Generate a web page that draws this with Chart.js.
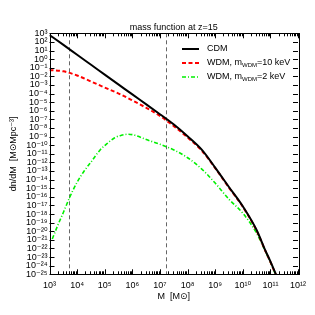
<!DOCTYPE html>
<html>
<head>
<meta charset="utf-8">
<script src="https://cdn.jsdelivr.net/npm/chart.js@4/dist/chart.umd.min.js"></script>
<style>
  html, body { margin: 0; padding: 0; background: #fff; }
  #wrap { width: 315px; height: 315px; }
</style>
</head>
<body>
<div id="wrap"><canvas id="chart" width="315" height="315"></canvas></div>
<script>
// halo mass (M_sun) and dn/dM
const masses = [1e3, 3.2e3, 1e4, 3.2e4, 1e5, 3.2e5, 1e6, 3.2e6, 1e7, 3.2e7, 1e8, 3.2e8, 1e9, 3.2e9, 1e10, 3.2e10, 6.3e10, 1e11, 1.6e11, 2e11];
const cdm = [6.3e2, 4.5e1, 3.2, 2.2e-1, 1.6e-2, 1.1e-3, 7.9e-5, 5.6e-6, 4.0e-7, 2.5e-8, 1.1e-9, 3.2e-11, 2.5e-13, 1.3e-15, 7.9e-18, 1.3e-20, 7.9e-23, 3.2e-24, 8.9e-26, 1.6e-26];
const wdm10 = [5.6e-2, 3.8e-2, 1.26e-2, 2.5e-3, 5.0e-4, 1.0e-4, 1.6e-5, 2.2e-6, 2.5e-7, 1.6e-8, 7.9e-10, 2.5e-11, 2.2e-13, 1.1e-15, 7.1e-18, 1.1e-20, 7.1e-23, 2.8e-24, 7.9e-26, 1.4e-26];
const wdm2Masses = [1.26e3, 2.0e3, 3.2e3, 5.2e3, 1e4, 1.8e4, 3.2e4, 6.8e4, 1e5, 2.3e5, 4.0e5, 7.2e5, 1.26e6, 3.2e6, 1e7, 3.2e7, 1e8, 3.2e8, 1e9, 3.2e9, 1e10, 3.2e10, 6.3e10, 1e11, 1.6e11, 2e11];
const wdm2 = [1.26e-21, 5.0e-20, 1.6e-18, 6.9e-17, 5.0e-15, 1.0e-13, 1.1e-12, 2.8e-11, 8.9e-11, 7.4e-10, 1.4e-9, 1.9e-9, 1.4e-9, 4.5e-10, 1.26e-10, 2.8e-11, 3.5e-12, 1.8e-13, 4.0e-15, 5.0e-17, 1.26e-18, 5.6e-21, 6.3e-23, 2.5e-24, 7.1e-26, 1.3e-26];
const markerMasses = [5.2e3, 1.65e7];

const xTicks = [1e3, 1e4, 1e5, 1e6, 1e7, 1e8, 1e9, 1e10, 1e11, 1e12];
const yTicks = [1e3, 1e2, 1e1, 1e0, 1e-1, 1e-2, 1e-3, 1e-4, 1e-5, 1e-6, 1e-7, 1e-8, 1e-9, 1e-10, 1e-11, 1e-12,
  1e-13, 1e-14, 1e-15, 1e-16, 1e-17, 1e-18, 1e-19, 1e-20, 1e-21, 1e-22, 1e-23, 1e-24, 1e-25];
const legendRows = [['CDM'], ['WDM, m', 'WDM', '=10 keV'], ['WDM, m', 'WDM', '=2 keV']];

const FONT = '"Liberation Sans", "DejaVu Sans", sans-serif';
const SUP = { '0': '⁰', '1': '¹', '2': '²', '3': '³', '4': '⁴', '5': '⁵', '6': '⁶', '7': '⁷', '8': '⁸', '9': '⁹', '-': '⁻' };
const pow10 = (v) => '10' + String(Math.round(Math.log10(v))).split('').map(c => SUP[c]).join('');

const minorX = [];
xTicks.slice(0, -1).forEach(d => [2, 3, 4, 5, 6, 7, 8, 9].forEach(k => minorX.push(d * k)));

const toPoints = (xs, ys) => xs.map((m, i) => ({ x: m, y: ys[i] }));

// frame, inward ticks and the two dashed mass markers
const framePlugin = {
  id: 'frame',
  beforeDatasetsDraw(chart) {
    const { ctx, chartArea: a, scales: { x } } = chart;
    ctx.save();
    ctx.strokeStyle = '#666';
    ctx.lineWidth = 1;
    ctx.setLineDash([4, 3]);
    markerMasses.forEach(m => {
      const px = Math.round(x.getPixelForValue(m)) + 0.5;
      ctx.beginPath();
      ctx.moveTo(px, a.top);
      ctx.lineTo(px, a.bottom);
      ctx.stroke();
    });
    ctx.restore();
  },
  afterDraw(chart) {
    const { ctx, chartArea: a, scales: { x, y } } = chart;
    ctx.save();
    ctx.strokeStyle = '#000';
    ctx.lineWidth = 1;
    ctx.beginPath();
    x.ticks.forEach(t => {
      const px = Math.round(x.getPixelForValue(t.value)) + 0.5;
      const len = t.major ? 5 : 3;
      ctx.moveTo(px, a.bottom); ctx.lineTo(px, a.bottom - len);
      ctx.moveTo(px, a.top); ctx.lineTo(px, a.top + len);
    });
    y.ticks.forEach(t => {
      const py = Math.round(y.getPixelForValue(t.value)) + 0.5;
      ctx.moveTo(a.left, py); ctx.lineTo(a.left + 5, py);
      ctx.moveTo(a.right, py); ctx.lineTo(a.right - 5, py);
    });
    ctx.stroke();
    ctx.strokeRect(Math.round(a.left) + 0.5, Math.round(a.top) + 0.5,
      Math.round(a.right - a.left), Math.round(a.bottom - a.top));
    ctx.restore();
  }
};

const legendPlugin = {
  id: 'inlineLegend',
  afterDatasetsDraw(chart) {
    const { ctx, chartArea: a } = chart;
    const x0 = a.right - 116, x1 = a.right - 99, tx = a.right - 91;
    legendRows.forEach((parts, i) => {
      const ds = chart.data.datasets[i];
      const yy = a.top + 15.7 + i * 14;
      ctx.save();
      ctx.strokeStyle = ds.borderColor;
      ctx.lineWidth = ds.borderWidth;
      ctx.setLineDash(ds.borderDash || []);
      ctx.beginPath();
      ctx.moveTo(x0, yy);
      ctx.lineTo(x1, yy);
      ctx.stroke();
      ctx.setLineDash([]);
      ctx.fillStyle = '#000';
      ctx.textBaseline = 'middle';
      let cx = tx;
      parts.forEach((p, j) => {
        const sub = j === 1;
        ctx.font = (sub ? '6px ' : '9px ') + FONT;
        ctx.fillText(p, cx, sub ? yy + 2.5 : yy);
        cx += ctx.measureText(p).width;
      });
      ctx.restore();
    });
  }
};

new Chart(document.getElementById('chart'), {
  type: 'line',
  data: {
    datasets: [
      { label: 'CDM', data: toPoints(masses, cdm), borderColor: '#000', borderWidth: 2 },
      { label: 'WDM 10 keV', data: toPoints(masses, wdm10), borderColor: '#ff0000', borderWidth: 2, borderDash: [4, 2.5] },
      { label: 'WDM 2 keV', data: toPoints(wdm2Masses, wdm2), borderColor: '#00f000', borderWidth: 1.6, borderDash: [4, 2, 1, 2] }
    ]
  },
  options: {
    responsive: false,
    animation: false,
    devicePixelRatio: 1,
    layout: { padding: { left: 0, right: 17, top: 0, bottom: 0 } },
    elements: {
      point: { radius: 0 },
      line: { cubicInterpolationMode: 'monotone', fill: false }
    },
    plugins: {
      legend: { display: false },
      tooltip: { enabled: false },
      title: {
        display: true,
        fullSize: false,
        text: 'mass function at z=15',
        color: '#000',
        font: { family: FONT, size: 9, weight: 'normal' },
        padding: { top: 22, bottom: 0.5 }
      }
    },
    scales: {
      x: {
        type: 'logarithmic',
        position: 'bottom',
        min: 1e3,
        max: 1e12,
        grid: { display: false, drawTicks: false },
        border: { display: false },
        afterBuildTicks: (scale) => {
          scale.ticks = xTicks.map(v => ({ value: v, major: true }))
            .concat(minorX.map(v => ({ value: v, major: false })));
        },
        afterFit: (scale) => { scale.height = 40.7; },
        ticks: {
          autoSkip: false,
          maxRotation: 0,
          padding: 6,
          color: '#000',
          font: { family: FONT, size: 9 },
          callback: (v) => xTicks.includes(v) ? pow10(v) : ''
        },
        title: {
          display: true,
          text: 'M  [M⊙]',
          color: '#000',
          font: { family: FONT, size: 9 },
          padding: { top: 0, bottom: 13 }
        }
      },
      y: {
        type: 'logarithmic',
        position: 'left',
        min: 1e-25,
        max: 1e3,
        grid: { display: false, drawTicks: false },
        border: { display: false },
        afterBuildTicks: (scale) => {
          scale.ticks = yTicks.map(v => ({ value: v, major: true }));
        },
        afterFit: (scale) => { scale.width = 49.5; },
        ticks: {
          autoSkip: false,
          padding: 2,
          color: '#000',
          font: { family: FONT, size: 9 },
          callback: (v) => pow10(v)
        },
        title: {
          display: true,
          text: 'dn/dM  [M⊙Mpc⁻³]',
          color: '#000',
          font: { family: FONT, size: 9 },
          padding: { top: 8, bottom: 0 }
        }
      }
    }
  },
  plugins: [framePlugin, legendPlugin]
});
</script>
</body>
</html>
